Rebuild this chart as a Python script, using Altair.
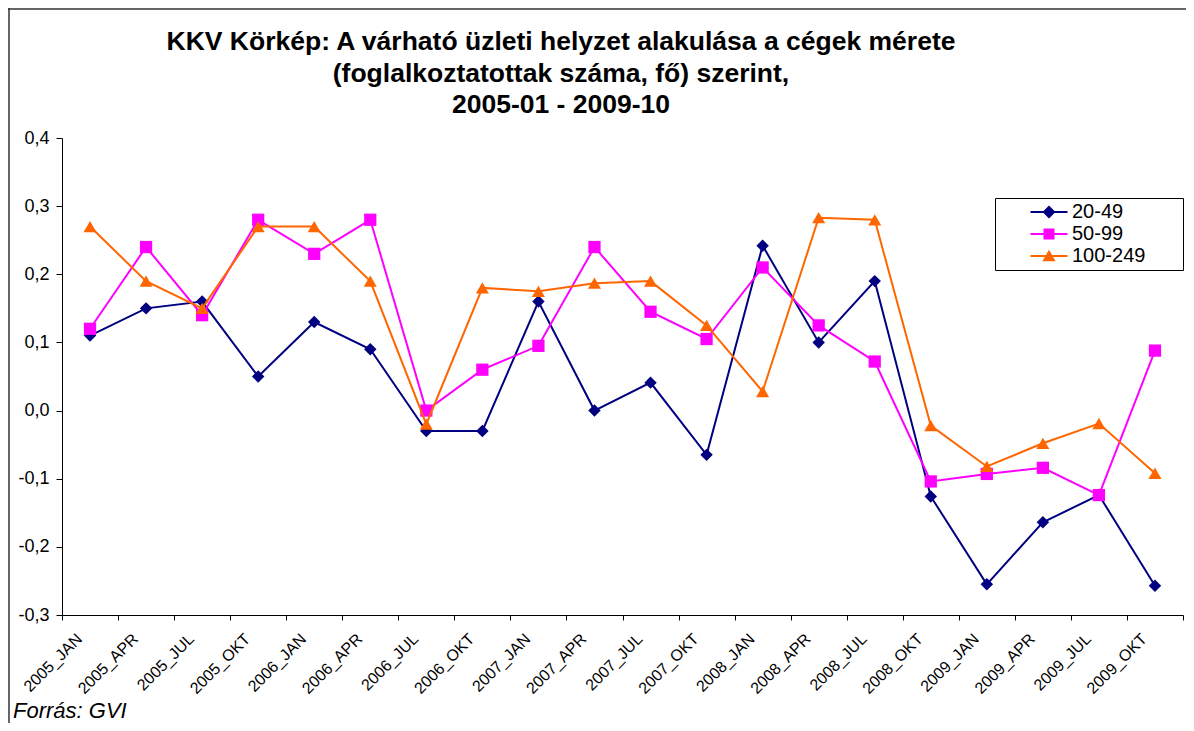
import altair as alt
import pandas as pd

periods = ["2005_JAN", "2005_APR", "2005_JUL", "2005_OKT",
           "2006_JAN", "2006_APR", "2006_JUL", "2006_OKT",
           "2007_JAN", "2007_APR", "2007_JUL", "2007_OKT",
           "2008_JAN", "2008_APR", "2008_JUL", "2008_OKT",
           "2009_JAN", "2009_APR", "2009_JUL", "2009_OKT"]

series_names = ["20-49", "50-99", "100-249"]

v_20_49 = [0.11, 0.15, 0.16, 0.05, 0.13, 0.09, -0.03, -0.03, 0.16, 0.0,
           0.041, -0.065, 0.242, 0.10, 0.19, -0.126, -0.255, -0.164, -0.124, -0.257]
v_50_99 = [0.12, 0.24, 0.14, 0.28, 0.23, 0.28, 0.0, 0.06, 0.095, 0.24,
           0.145, 0.105, 0.21, 0.125, 0.072, -0.104, -0.093, -0.084, -0.124, 0.088]
v_100_249 = [0.27, 0.19, 0.15, 0.27, 0.27, 0.19, -0.02, 0.18, 0.175, 0.187,
             0.19, 0.125, 0.028, 0.283, 0.28, -0.022, -0.082, -0.048, -0.019, -0.092]

colors = ["#000080", "#FF00FF", "#FF6600"]
marker_shapes = ["diamond", "square", "triangle-up"]
marker_sizes = [155, 150, 170]

title_lines = ["KKV Körkép: A várható üzleti helyzet alakulása a cégek mérete",
               "(foglalkoztatottak száma, fő) szerint,",
               "2005-01 - 2009-10"]
source_text = "Forrás: GVI"
y_ticks = [-0.3, -0.2, -0.1, 0.0, 0.1, 0.2, 0.3, 0.4]

# legend symbols: line + marker
legend_line = "M-1.85,-0.1L1.85,-0.1L1.85,0.1L-1.85,0.1Z"
legend_paths = [
    legend_line + "M0,-0.65L0.65,0L0,0.65L-0.65,0Z",
    legend_line + "M-0.55,-0.55L0.55,-0.55L0.55,0.55L-0.55,0.55Z",
    legend_line + "M0,-0.62L0.66,0.52L-0.66,0.52Z",
]

values = {"20-49": v_20_49, "50-99": v_50_99, "100-249": v_100_249}
rows = []
for s in series_names:
    for p, v in zip(periods, values[s]):
        rows.append({"series": s, "period": p, "value": v})
df = pd.DataFrame(rows)

x_enc = alt.X("period:N", sort=periods,
              scale=alt.Scale(type="band", domain=periods, paddingInner=0, paddingOuter=0),
              axis=alt.Axis(title=None, labelAngle=-45, labelAlign="right", labelBaseline="middle",
                            labelFontSize=16, labelPadding=16, labelOffset=-11, tickSize=5,
                            tickBand="extent",
                            domainColor="#000000", tickColor="#000000", labelColor="#000000",
                            grid=False, labelFont="Liberation Sans"))
y_enc = alt.Y("value:Q",
              scale=alt.Scale(domain=[-0.3, 0.4], nice=False, zero=False),
              axis=alt.Axis(title=None, values=y_ticks, grid=False, tickSize=6, labelPadding=7,
                            labelFontSize=18, labelColor="#000000", domainColor="#000000",
                            tickColor="#000000", labelFont="Liberation Sans",
                            labelExpr="(datum.value < -0.00001 ? '-' : '') + replace(format(abs(datum.value), '.1f'), '.', ',')"))

base = alt.Chart(df)
layers = []
for s, c, shp, sz in zip(series_names, colors, marker_shapes, marker_sizes):
    sub = base.transform_filter(alt.datum.series == s)
    layers.append(sub.mark_line(color=c, strokeWidth=2).encode(x=x_enc, y=y_enc))
    layers.append(sub.mark_point(filled=True, shape=shp, size=sz, color=c, opacity=1,
                                 strokeWidth=0).encode(x=x_enc, y=y_enc))

pad_tail = "\u00a0" * 6 + "\u200b"
legend_kwargs = dict(title=None, orient="none", legendX=933, legendY=60,
                     strokeColor="#000000", fillColor="#ffffff", padding=4,
                     symbolSize=400, symbolStrokeWidth=0, symbolOffset=40,
                     labelOffset=13, rowPadding=2, labelFontSize=20,
                     labelFont="Liberation Sans", labelColor="#000000",
                     labelExpr="datum.label + '" + pad_tail + "'")

legend_layer = alt.Chart(pd.DataFrame({"series": series_names})).transform_filter("false").mark_point(
    filled=True, opacity=1).encode(
    color=alt.Color("series:N", scale=alt.Scale(domain=series_names, range=colors),
                    legend=alt.Legend(**legend_kwargs)),
    shape=alt.Shape("series:N", scale=alt.Scale(domain=series_names, range=legend_paths),
                    legend=alt.Legend(**legend_kwargs)),
)

title_layer = alt.Chart(pd.DataFrame({"t": ["\n".join(title_lines)]})).mark_text(
    align="center", baseline="alphabetic", fontSize=26.5, fontWeight="bold",
    font="Liberation Sans", color="#000000", lineBreak="\n", lineHeight=31.5).encode(
    text="t:N", x=alt.value(499), y=alt.value(-88))

src = alt.Chart(pd.DataFrame({"t": [source_text]})).mark_text(
    align="left", baseline="alphabetic", fontSize=22, fontStyle="italic",
    font="Liberation Sans", color="#000000").encode(
    text="t:N", x=alt.value(-49), y=alt.value(580))

frame_df = pd.DataFrame({"k": [1]})
frame_left = alt.Chart(frame_df).mark_rule(color="#333333", strokeWidth=1.5).encode(
    x=alt.value(-53), y=alt.value(-130), y2=alt.value(700))
frame_top = alt.Chart(frame_df).mark_rule(color="#333333", strokeWidth=1.5).encode(
    x=alt.value(-54), x2=alt.value(1130), y=alt.value(-129))

chart = alt.layer(*layers, legend_layer, title_layer, src, frame_left, frame_top).properties(
    width=1121, height=477,
    padding={"left": 54, "top": 130, "right": 3, "bottom": 108},
    autosize=alt.AutoSizeParams(type="none"),
    background="#ffffff",
).configure_view(strokeWidth=0)

chart.save("out.html", embed_options={"renderer": "svg", "actions": False})
